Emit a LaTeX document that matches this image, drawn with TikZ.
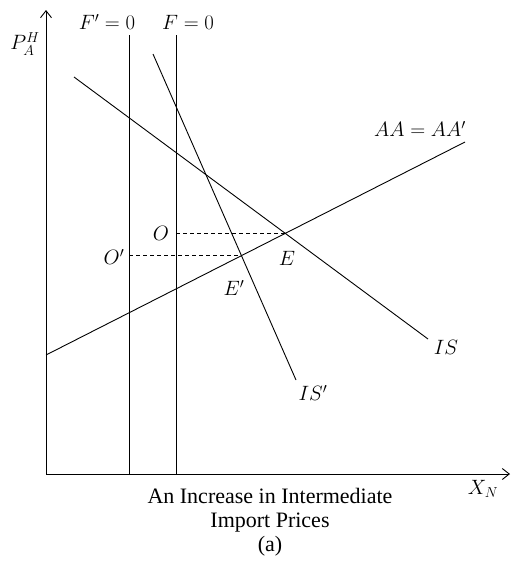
\documentclass[tikz,border=0pt]{standalone}
\usepackage{amsmath}
\usepackage{fontspec}
\setmainfont{Liberation Serif}
\usetikzlibrary{arrows.meta,positioning,calc,intersections}

\begin{document}
\begin{tikzpicture}[x=1pt,y=-1pt,>={Straight Barb[length=7pt,width=11pt]},every node/.style={font=\fontsize{20.5}{24}\selectfont}]
\useasboundingbox (0,0) rectangle (512,565);
\begin{scope}[line width=.9pt]
% axes
\coordinate (orig) at (46,474);
\draw[->] (orig)--(46,10);
\draw[->] (orig)--(510,474);
\node (py) at (25,44) {$P_A^H$};
\node (xn) at (483,489) {$X_N$};
% F=0 loci
\draw[name path=Fp] (129,474)--(129,35);
\draw[name path=F] (176,474)--(176,35);
\node (fp) at (107,22) {$F'=0$};
\node (f) at (188,22) {$F=0$};
% AA, IS, IS'
\draw[name path=AA] (46,355)--(465,142);
\node (aa) at (420,129) {$AA=AA'$};
\draw[name path=IS] (74,77)--(428,339);
\node (is) at (446,347) {$IS$};
\draw[name path=ISp] (153,54)--(296,380);
\node (isp) at (313,393) {$IS'$};
\path[name intersections={of=AA and IS,by=E}];
\path[name intersections={of=AA and ISp,by=Ep}];
\draw[dash pattern=on 4pt off 3pt] (E -| 176,0)--(E);
\draw[dash pattern=on 4pt off 3pt] (Ep -| 129,0)--(Ep);
\node (o) at (161,233) {$O$};
\node (op) at (114,257) {$O'$};
\node (e) at (287,258) {$E$};
\node (ep) at (234,288) {$E'$};
\end{scope}
\node[align=center,font=\fontsize{22}{24}\selectfont] (cap) at (270,522) {An Increase in Intermediate\\Import Prices\\(a)};
\end{tikzpicture}
\end{document}
